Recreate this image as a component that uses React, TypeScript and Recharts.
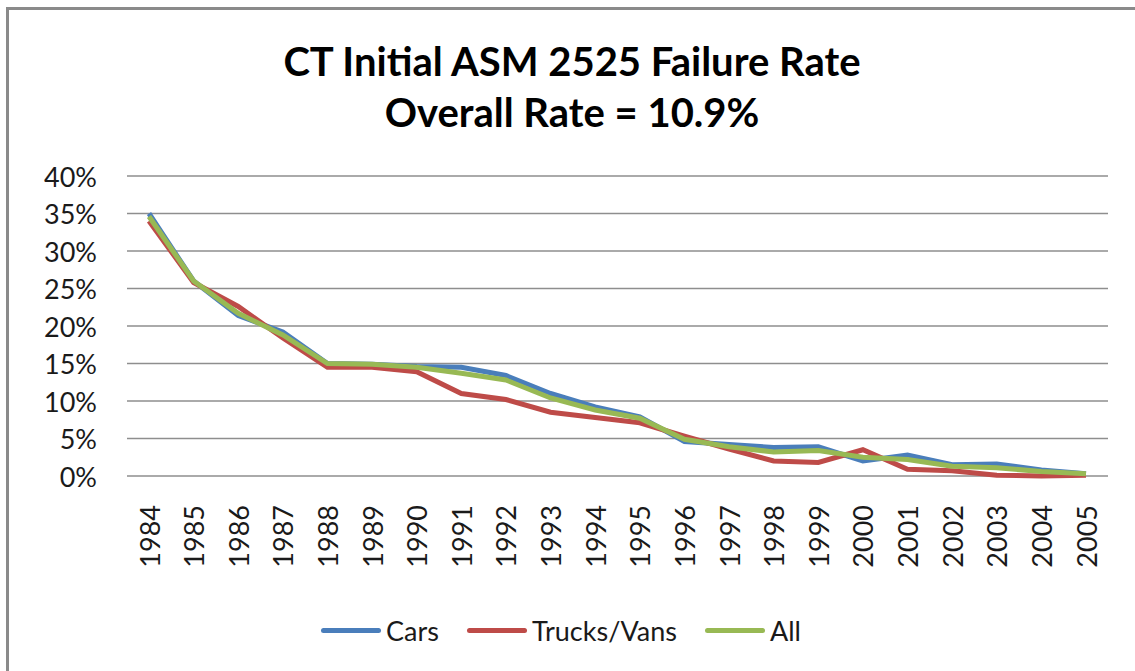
import { LineChart, Line, XAxis, YAxis, CartesianGrid } from "recharts";

const years = [
  "1984", "1985", "1986", "1987", "1988", "1989", "1990", "1991", "1992", "1993", "1994",
  "1995", "1996", "1997", "1998", "1999", "2000", "2001", "2002", "2003", "2004", "2005",
];

const cars = [35.0, 26.0, 21.4, 19.2, 15.0, 14.9, 14.6, 14.5, 13.4, 11.0, 9.2, 7.9, 4.6, 4.2, 3.8, 3.9, 2.0, 2.8, 1.5, 1.6, 0.8, 0.3];
const trucksVans = [34.0, 25.8, 22.6, 18.4, 14.5, 14.5, 13.9, 11.0, 10.2, 8.5, 7.8, 7.1, 5.3, 3.6, 2.0, 1.8, 3.5, 0.9, 0.7, 0.1, 0.0, 0.1];
const all = [34.6, 26.0, 21.7, 18.8, 15.0, 14.9, 14.5, 13.7, 12.8, 10.4, 8.8, 7.7, 4.9, 3.9, 3.2, 3.4, 2.5, 2.2, 1.3, 1.1, 0.6, 0.3];

const yTicks = [0, 5, 10, 15, 20, 25, 30, 35, 40];

const seriesList = [
  { key: "cars", name: "Cars", color: "#4A7EBB" },
  { key: "trucks", name: "Trucks/Vans", color: "#BE4B48" },
  { key: "all", name: "All", color: "#98B954" },
];

const data = years.map((year, i) => ({
  year,
  cars: cars[i],
  trucks: trucksVans[i],
  all: all[i],
}));

const FONT = "Lato, 'Open Sans', sans-serif";

function YTick({ y, payload }: any) {
  return (
    <text x={97} y={y} textAnchor="end" dominantBaseline="central" fontSize={27} fill="#1a1a1a" fontFamily={FONT}>
      {`${payload.value}%`}
    </text>
  );
}

function XTick({ x, payload }: any) {
  return (
    <g transform={`translate(${x},505)`}>
      <text transform="rotate(-90)" textAnchor="end" dominantBaseline="central" fontSize={27} fill="#1a1a1a" fontFamily={FONT}>
        {payload.value}
      </text>
    </g>
  );
}

export default function App() {
  return (
    <div style={{ position: "absolute", left: 0, top: 0, width: 1135, height: 671, background: "#fff", overflow: "hidden", fontFamily: FONT }}>
      <div
        style={{
          position: "absolute",
          left: 6,
          top: 7,
          width: 1140,
          height: 670,
          borderTop: "3px solid #8a8a8a",
          borderLeft: "3px solid #8a8a8a",
        }}
      />
      <div
        style={{
          position: "absolute",
          left: 0,
          top: 36,
          width: 1144,
          textAlign: "center",
          fontWeight: 700,
          fontSize: 40,
          lineHeight: "51px",
          color: "#000",
        }}
      >
        <div>CT Initial ASM 2525 Failure Rate</div>
        <div>Overall Rate = 10.9%</div>
      </div>
      <div style={{ position: "absolute", left: 0, top: 0 }}>
        <LineChart width={1135} height={671} data={data} margin={{ top: 176, right: 27, left: 67, bottom: 95 }}>
          <CartesianGrid vertical={false} stroke="#8e8e8e" strokeWidth={1.5} />
          <XAxis
            dataKey="year"
            scale="point"
            padding={{ left: 22, right: 22 }}
            axisLine={false}
            tickLine={false}
            height={100}
            interval={0}
            tick={<XTick />}
          />
          <YAxis
            domain={[0, 40]}
            ticks={yTicks}
            axisLine={false}
            tickLine={false}
            width={60}
            tick={<YTick />}
          />
          {seriesList.map((s) => (
            <Line
              key={s.key}
              type="linear"
              dataKey={s.key}
              name={s.name}
              stroke={s.color}
              strokeWidth={5}
              dot={false}
              isAnimationActive={false}
            />
          ))}
        </LineChart>
      </div>
      <div
        style={{
          position: "absolute",
          left: 0,
          top: 612,
          width: 1122,
          height: 36,
          display: "flex",
          justifyContent: "center",
          alignItems: "center",
          gap: 28,
          fontSize: 27,
          color: "#1a1a1a",
        }}
      >
        {seriesList.map((s) => (
          <div key={s.key} style={{ display: "flex", alignItems: "center" }}>
            <div style={{ width: 60, height: 5, borderRadius: 3, background: s.color, marginRight: 5 }} />
            <span>{s.name}</span>
          </div>
        ))}
      </div>
    </div>
  );
}
